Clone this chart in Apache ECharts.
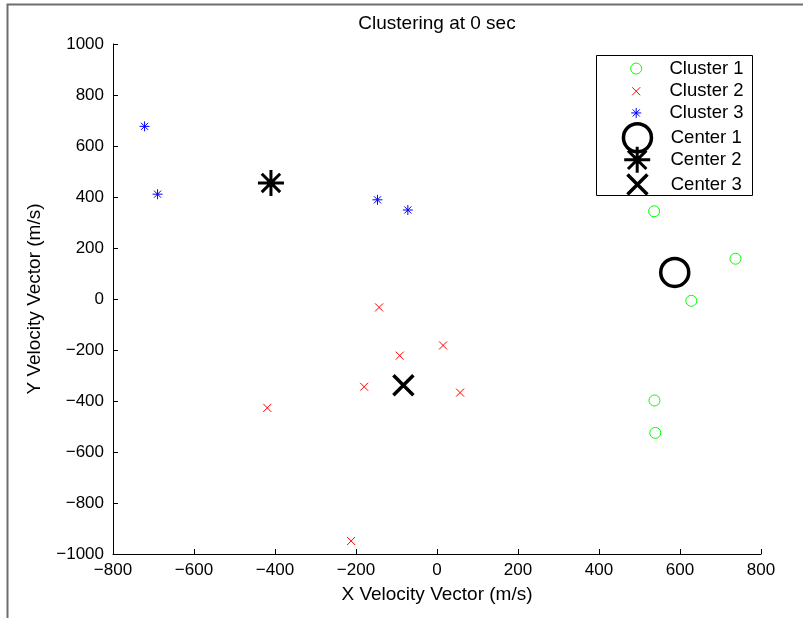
<!DOCTYPE html>
<html>
<head>
<meta charset="utf-8">
<script src="https://cdn.jsdelivr.net/npm/echarts@6/dist/echarts.min.js"></script>
<style>
  html, body { margin: 0; padding: 0; background: #fff; }
  #chart { width: 803px; height: 618px; }
</style>
</head>
<body>
<div id="chart"></div>
<script>
// Velocity samples (m/s) grouped by cluster, plus the three cluster centres
const cluster1 = [[536, 344], [737, 158], [628, -7], [537, -398], [539, -525]];
const cluster2 = [[-143, -33], [15, -182], [-92, -222], [-180, -344], [57, -367], [-419, -427], [-212, -949]];
const cluster3 = [[-722, 677], [-690, 411], [-147, 389], [-72, 349]];
const center1 = [[587, 104]];
const center2 = [[-410, 455]];
const center3 = [[-83, -338]];

const seriesNames = ['Cluster 1', 'Cluster 2', 'Cluster 3', 'Center 1', 'Center 2', 'Center 3'];
const xRange = [-800, 800, 200];
const yRange = [-1000, 1000, 200];

const FONT = "'Liberation Sans', Arial, Helvetica, sans-serif";
const TICK_FS = 17;
const TEXT_FS = 19;
const LEGEND_FS = 18.5;

// stroked marker shapes
const X_PATH = 'path://M0 0L10 10M10 0L0 10';
const STAR_PATH = 'path://M5 0L5 10M0 5L10 5M1.46 1.46L8.54 8.54M8.54 1.46L1.46 8.54';

const markerStyles = [
  { symbol: 'circle', size: 11, color: '#00ff00', width: 1 },
  { symbol: X_PATH, size: 8, color: '#ff0000', width: 1 },
  { symbol: STAR_PATH, size: 10, color: '#0000ff', width: 1 },
  { symbol: 'circle', size: 28, color: '#000000', width: 3.5 },
  { symbol: STAR_PATH, size: 26, color: '#000000', width: 3 },
  { symbol: X_PATH, size: 20, color: '#000000', width: 3.5 }
];
const seriesData = [cluster1, cluster2, cluster3, center1, center2, center3];

const minus = v => String(v).replace('-', '\u2212');

const series = seriesNames.map((name, i) => ({
  name: name,
  type: 'scatter',
  data: seriesData[i],
  symbol: markerStyles[i].symbol,
  symbolSize: markerStyles[i].size,
  z: i >= 3 ? 5 : 3,
  itemStyle: {
    color: 'transparent',
    borderColor: markerStyles[i].color,
    borderWidth: markerStyles[i].width,
    opacity: 1
  },
  emphasis: { disabled: true }
}));

// one legend block per entry so each marker keeps its own size;
// the block is laid out from the marker's own bounds, so offset by half its size
const legendCenters = [68.3, 91, 112.7, 136, 158.3, 182.7];
const ICON_CX = 635.7;
const ICON_W = 56.6;
const legends = seriesNames.map((name, i) => {
  const h = markerStyles[i].size;
  return {
    data: [name],
    orient: 'vertical',
    left: ICON_CX - h / 2,
    top: legendCenters[i] - Math.max(h, LEGEND_FS) / 2,
    padding: 0,
    itemWidth: ICON_W,
    itemHeight: h,
    selectedMode: false,
    itemStyle: { borderWidth: markerStyles[i].width, color: 'transparent', borderColor: markerStyles[i].color },
    textStyle: { fontFamily: FONT, fontSize: LEGEND_FS, color: '#000' },
    z: 10
  };
});

const chart = echarts.init(document.getElementById('chart'), null, { renderer: 'canvas' });
chart.setOption({
  animation: false,
  backgroundColor: '#fff',
  title: {
    text: 'Clustering at 0 sec',
    left: 437,
    top: 14,
    padding: 0,
    textAlign: 'center',
    textStyle: { fontFamily: FONT, fontSize: TEXT_FS, fontWeight: 'normal', color: '#000' }
  },
  grid: { left: 113, right: 42, top: 44, bottom: 64 },
  xAxis: {
    type: 'value',
    min: xRange[0], max: xRange[1], interval: xRange[2],
    name: 'X Velocity Vector (m/s)',
    nameLocation: 'middle',
    nameGap: 31,
    nameTextStyle: { fontFamily: FONT, fontSize: TEXT_FS, color: '#000' },
    axisLine: { show: true, onZero: false, lineStyle: { color: '#000', width: 1 } },
    axisTick: { show: true, inside: true, length: 5, lineStyle: { color: '#000' } },
    axisLabel: { fontFamily: FONT, fontSize: TICK_FS, color: '#000', margin: 8, formatter: minus },
    splitLine: { show: false }
  },
  yAxis: {
    type: 'value',
    min: yRange[0], max: yRange[1], interval: yRange[2],
    name: 'Y Velocity Vector (m/s)',
    nameLocation: 'middle',
    nameGap: 69,
    nameTextStyle: { fontFamily: FONT, fontSize: TEXT_FS, color: '#000' },
    axisLine: { show: true, onZero: false, lineStyle: { color: '#000', width: 1 } },
    axisTick: { show: true, inside: true, length: 5, lineStyle: { color: '#000' } },
    axisLabel: { fontFamily: FONT, fontSize: TICK_FS, color: '#000', margin: 9, formatter: minus },
    splitLine: { show: false }
  },
  legend: legends,
  graphic: [
    // legend frame
    { type: 'rect', z: 8, shape: { x: 596.5, y: 55.5, width: 156, height: 140 },
      style: { fill: '#fff', stroke: '#000', lineWidth: 1 } },
    // outer window edge
    { type: 'polyline', z: 20, shape: { points: [[7.5, 618], [7.5, 4.5], [803, 4.5]] },
      style: { fill: null, stroke: '#6e6e6e', lineWidth: 2 } }
  ],
  series: series
});
</script>
</body>
</html>
